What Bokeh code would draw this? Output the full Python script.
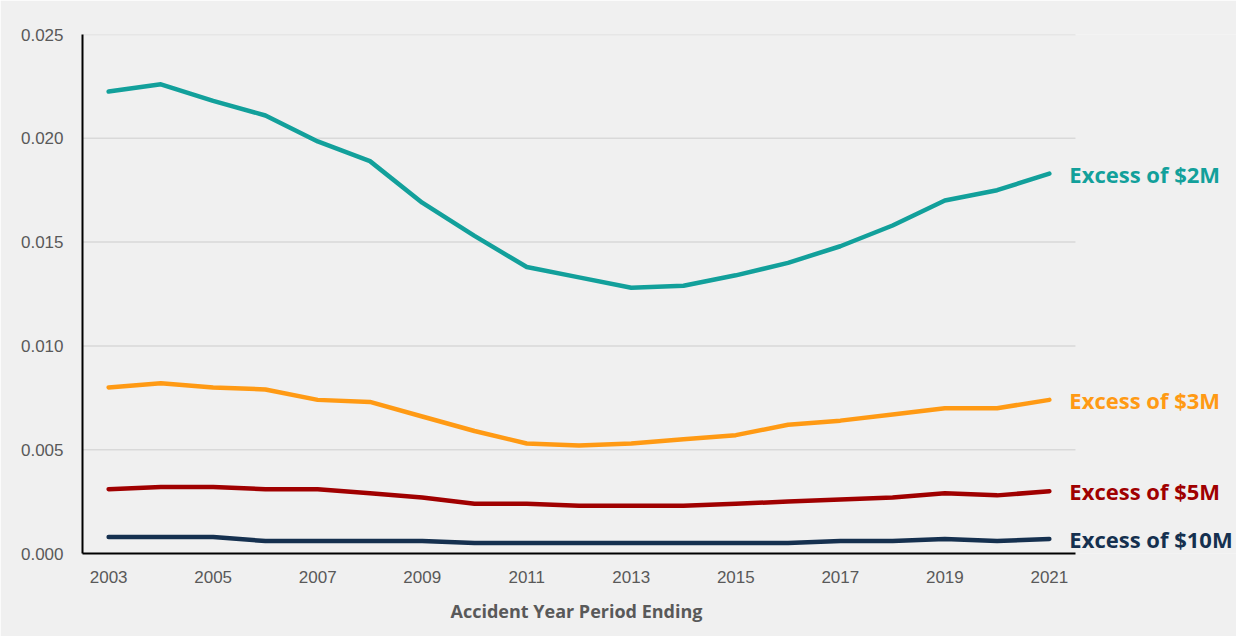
from bokeh.plotting import figure
from bokeh.models import Range1d, FixedTicker, NumeralTickFormatter, Label, Title
from bokeh.embed import file_html
from bokeh.resources import INLINE

years = list(range(2003, 2022))
xs_2m = [0.02225, 0.0226, 0.0218, 0.0211, 0.01985, 0.0189, 0.0169, 0.0153, 0.0138, 0.0133,
         0.0128, 0.0129, 0.0134, 0.0140, 0.0148, 0.0158, 0.0170, 0.0175, 0.0183]
xs_3m = [0.0080, 0.0082, 0.0080, 0.0079, 0.0074, 0.0073, 0.0066, 0.0059, 0.0053, 0.0052,
         0.0053, 0.0055, 0.0057, 0.0062, 0.0064, 0.0067, 0.0070, 0.0070, 0.0074]
xs_5m = [0.0031, 0.0032, 0.0032, 0.0031, 0.0031, 0.0029, 0.0027, 0.0024, 0.0024, 0.0023,
         0.0023, 0.0023, 0.0024, 0.0025, 0.0026, 0.0027, 0.0029, 0.0028, 0.0030]
xs_10m = [0.0008, 0.0008, 0.0008, 0.0006, 0.0006, 0.0006, 0.0006, 0.0005, 0.0005, 0.0005,
          0.0005, 0.0005, 0.0005, 0.0005, 0.0006, 0.0006, 0.0007, 0.0006, 0.0007]
series_names = ["Excess of $2M", "Excess of $3M", "Excess of $5M", "Excess of $10M"]
series_vals = [xs_2m, xs_3m, xs_5m, xs_10m]
colors = ["#12A09B", "#FF9A14", "#A00000", "#15304F"]
x_ticks = list(range(2003, 2022, 2))
y_ticks = [0.0, 0.005, 0.010, 0.015, 0.020, 0.025]
x_title = "Accident Year Period Ending"

x_lo, x_hi = years[0] - 0.5, years[-1] + 0.5
axis_px = 993            # pixel length of the drawn x axis
frame_w = 1154
x_end = x_lo + (x_hi - x_lo) * frame_w / axis_px   # extra room on the right for labels

p = figure(frame_width=frame_w, frame_height=519, output_backend="svg", toolbar_location=None,
           x_range=Range1d(x_lo, x_end), y_range=Range1d(0, 0.025),
           min_border_left=82, min_border_top=34, min_border_right=0, min_border_bottom=83)
p.background_fill_color = "#F0F0F0"
p.border_fill_color = "#F0F0F0"
p.outline_line_color = None

# horizontal gridlines only across the axis extent
grid_y = [t for t in y_ticks if t > 0]
p.segment(x0=[x_lo] * len(grid_y), x1=[x_hi] * len(grid_y), y0=grid_y, y1=grid_y,
          line_color="#D9D9D9", line_width=1.5)

for name, vals, c in zip(series_names, series_vals, colors):
    p.line(years, vals, line_color=c, line_width=4.5, line_join="round", line_cap="round")
    p.add_layout(Label(x=years[-1], y=vals[-1], text=name, x_offset=20,
                       text_baseline="middle", text_align="left",
                       text_color=c, text_font="Open Sans", text_font_style="bold",
                       text_font_size="22px"))

p.xaxis.ticker = FixedTicker(ticks=x_ticks)
p.xaxis.bounds = (x_lo, x_hi)
p.yaxis.ticker = FixedTicker(ticks=y_ticks)
p.yaxis.formatter = NumeralTickFormatter(format="0.000")
for ax in (p.xaxis, p.yaxis):
    ax.axis_line_color = "black"
    ax.axis_line_width = 2
    ax.major_tick_line_color = None
    ax.minor_tick_line_color = None
    ax.major_tick_out = 0
    ax.major_tick_in = 0
    ax.major_label_text_color = "#595959"
    ax.major_label_text_font = "Liberation Sans"
    ax.major_label_text_font_size = "17px"
p.yaxis.major_label_standoff = 19
p.xaxis.major_label_standoff = 17

# axis title centred under the drawn axis (not the whole frame)
p.add_layout(Title(text=x_title, align="left", offset=368, standoff=22,
                   text_color="#595959", text_font="Open Sans", text_font_style="bold",
                   text_font_size="18px"), "below")

p.xgrid.grid_line_color = None
p.ygrid.grid_line_color = None

open("out.html", "w").write(file_html(p, INLINE))
